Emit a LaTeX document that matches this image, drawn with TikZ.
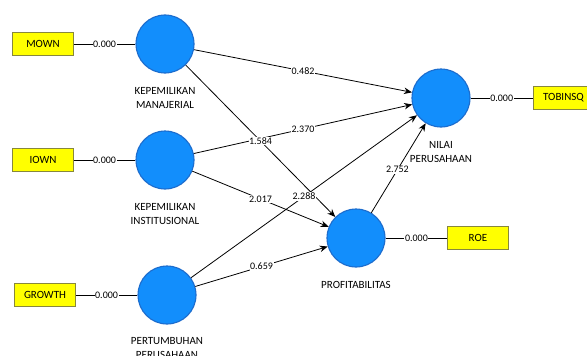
\documentclass[tikz,border=0pt]{standalone}
\usepackage{fontspec}
\setmainfont{Carlito}
\usepackage{xcolor}
\usetikzlibrary{positioning,shapes,arrows.meta}

\definecolor{latentfill}{RGB}{18,142,252}
\definecolor{latentrim}{RGB}{28,108,205}
\definecolor{indfill}{RGB}{255,255,0}
\definecolor{indrim}{RGB}{135,135,60}

\tikzset{
    latent/.style={circle, draw=latentrim, fill=latentfill, line width=1.1pt, minimum size=58pt, inner sep=0pt},
    indicator/.style={rectangle, draw=indrim, fill=indfill, minimum width=61pt, minimum height=23pt, font=\fontsize{11}{12}\selectfont},
    caption/.style={align=center, inner sep=1pt, font=\fontsize{11}{14}\selectfont},
    coef/.style={fill=white, inner sep=0.6pt, font=\fontsize{10}{11}\selectfont},
    effect/.style={-{Stealth[length=8pt,width=6.5pt]}, line width=0.8pt},
    outer/.style={line width=0.8pt}
}

\begin{document}
\begin{tikzpicture}[x=1pt, y=-1pt, node distance=122pt]
    \clip (0,0) rectangle (587,356);
    \fill [white] (0,0) rectangle (587,356);

    % latent variables
    \node [latent] (km) at (165,44) {};
    \node [latent] (ki) at (165,160) {};
    \node [latent] (pp) at (167,295) {};
    \node [latent] (np) at (441,98) {};
    \node [latent] (prof) at (356,238) {};

    \node [caption, below=13pt of km] (kmtext) {KEPEMILIKAN\\MANAJERIAL};
    \node [caption, below=13pt of ki] (kitext) {KEPEMILIKAN\\INSTITUSIONAL};
    \node [caption, below=12pt of pp] (pptext) {PERTUMBUHAN\\PERUSAHAAN};
    \node [caption, below=13pt of np] (nptext) {NILAI\\PERUSAHAAN};
    \node [caption, below=13pt of prof] (proftext) {PROFITABILITAS};

    % indicators
    \node [indicator, left of=km] (mown) {MOWN};
    \node [indicator, left of=ki] (iown) {IOWN};
    \node [indicator, left of=pp] (growth) {GROWTH};
    \node [indicator, right of=np, xshift=0.5pt] (tobinsq) {TOBINSQ};
    \node [indicator, right of=prof] (roe) {ROE};

    \draw [outer] (mown) -- node[coef] {0.000} (km);
    \draw [outer] (iown) -- node[coef] {0.000} (ki);
    \draw [outer] (growth) -- node[coef] {0.000} (pp);
    \draw [outer] (np) -- node[coef] {0.000} (tobinsq);
    \draw [outer] (prof) -- node[coef] {0.000} (roe);

    % paths
    \draw [effect] (km) -- node[coef] {0.482} (np);
    \draw [effect] (ki) -- node[coef] {2.370} (np);
    \draw [effect] (km) -- node[coef] {1.584} (prof);
    \draw [effect] (ki) -- node[coef] {2.017} (prof);
    \draw [effect] (pp) -- node[coef] {2.288} (np);
    \draw [effect] (pp) -- node[coef] {0.659} (prof);
    \draw [effect] (prof) -- node[coef, pos=0.48] {2.752} (np);
\end{tikzpicture}
\end{document}
